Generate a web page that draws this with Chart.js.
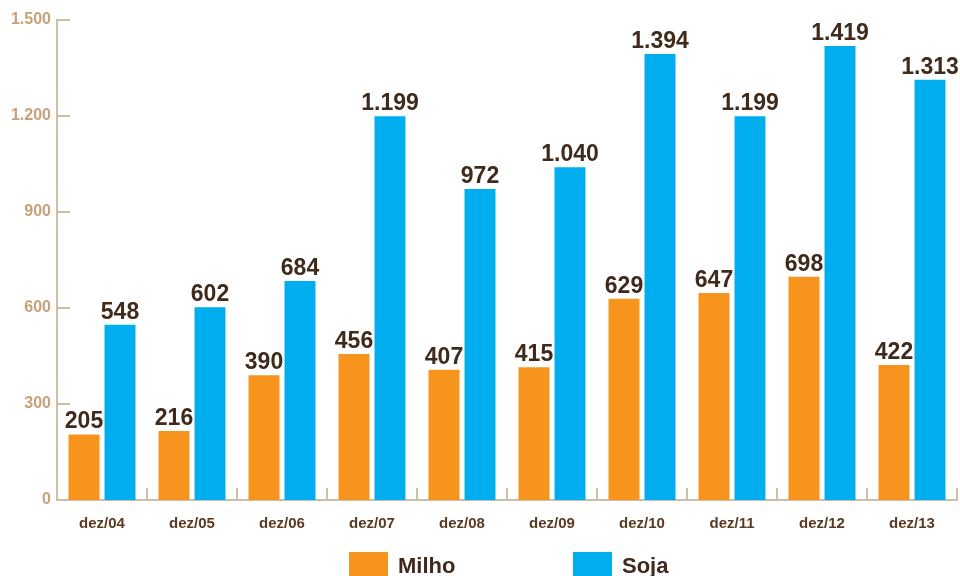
<!DOCTYPE html>
<html lang="pt-BR">
<head>
  <meta charset="UTF-8">
  <title>Milho e Soja – dez/04 a dez/13</title>
  <script src="https://cdn.jsdelivr.net/npm/chart.js"></script>
  <style>
    html, body {
      margin: 0;
      padding: 0;
      background: #fff;
      font-family: "Liberation Sans", Arial, sans-serif;
      overflow: hidden;
    }

    .wrap {
      position: relative;
      width: 960px;
      height: 576px;
    }

    .legend {
      position: absolute;
      top: 552px;
      left: 349px;
      display: flex;
      align-items: flex-start;
    }

    .legend span.box {
      display: inline-block;
      width: 39px;
      height: 25px;
      margin-right: 10px;
    }

    .legend span.txt {
      font-size: 22px;
      line-height: 1;
      font-weight: bold;
      color: #3f2a1c;
      margin-top: 3px;
    }
  </style>
</head>
<body>
  <div class="wrap">
    <canvas id="graf" width="960" height="576"></canvas>
    <div class="legend">
      <span class="box" style="background:#f7941d"></span><span class="txt" style="width:175px">Milho</span>
      <span class="box" style="background:#00aeef"></span><span class="txt">Soja</span>
    </div>
  </div>

  <script>
    const periodos = ['dez/04', 'dez/05', 'dez/06', 'dez/07', 'dez/08', 'dez/09', 'dez/10', 'dez/11', 'dez/12', 'dez/13'];
    const milho = [205, 216, 390, 456, 407, 415, 629, 647, 698, 422];
    const soja = [548, 602, 684, 1199, 972, 1040, 1394, 1199, 1419, 1313];

    const corEixo = '#cbbfa8';

    // 1200 -> "1.200"
    const fmt = v => String(v).replace(/\B(?=(\d{3})+(?!\d))/g, '.');

    const rotulos = {
      id: 'rotulos',
      afterDatasetsDraw(chart) {
        const ctx = chart.ctx;
        ctx.save();
        ctx.font = 'bold 23px "Liberation Sans", Arial, sans-serif';
        ctx.fillStyle = '#3f2a1c';
        ctx.textAlign = 'center';
        ctx.textBaseline = 'alphabetic';
        chart.data.datasets.forEach((ds, i) => {
          chart.getDatasetMeta(i).data.forEach((bar, j) => {
            ctx.fillText(fmt(ds.data[j]), bar.x, bar.y - 6);
          });
        });
        ctx.restore();
      }
    };

    // marcas curtas dos eixos, voltadas para dentro
    const marcas = {
      id: 'marcas',
      afterDraw(chart) {
        const ctx = chart.ctx;
        const x = chart.scales.x, y = chart.scales.y;
        const area = chart.chartArea;
        ctx.save();
        ctx.strokeStyle = corEixo;
        ctx.lineWidth = 2;
        ctx.beginPath();
        y.ticks.forEach(t => {
          if (t.value === 0) return;
          const py = y.getPixelForValue(t.value);
          ctx.moveTo(area.left, py);
          ctx.lineTo(area.left + 13, py);
        });
        const meio = (x.getPixelForValue(1) - x.getPixelForValue(0)) / 2;
        periodos.forEach((p, i) => {
          const px = x.getPixelForValue(i) + meio;
          ctx.moveTo(px, area.bottom);
          ctx.lineTo(px, area.bottom - 12);
        });
        ctx.stroke();
        ctx.restore();
      }
    };

    new Chart(document.getElementById('graf'), {
      type: 'bar',
      data: {
        labels: periodos,
        datasets: [
          { label: 'Milho', data: milho, backgroundColor: '#f7941d' },
          { label: 'Soja', data: soja, backgroundColor: '#00aeef' }
        ]
      },
      options: {
        responsive: false,
        animation: false,
        layout: { padding: { top: 20, right: 3 } },
        datasets: {
          bar: { categoryPercentage: 0.8, barPercentage: 0.86 }
        },
        plugins: {
          legend: { display: false },
          tooltip: { enabled: false }
        },
        scales: {
          x: {
            grid: { display: false, drawTicks: false },
            border: { color: corEixo, width: 2 },
            ticks: {
              color: '#5b3a21',
              font: { family: '"Liberation Sans", Arial, sans-serif', size: 15, weight: 'bold' },
              padding: 15
            },
            afterFit: s => { s.height = 76; }
          },
          y: {
            min: 0,
            max: 1500,
            grid: { display: false, drawTicks: false },
            border: { color: corEixo, width: 2 },
            ticks: {
              stepSize: 300,
              color: '#c9a077',
              font: { family: '"Liberation Sans", Arial, sans-serif', size: 16, weight: 'bold' },
              padding: 6,
              callback: v => fmt(v)
            },
            afterFit: s => { s.width = 57; }
          }
        }
      },
      plugins: [rotulos, marcas]
    });
  </script>
</body>
</html>
